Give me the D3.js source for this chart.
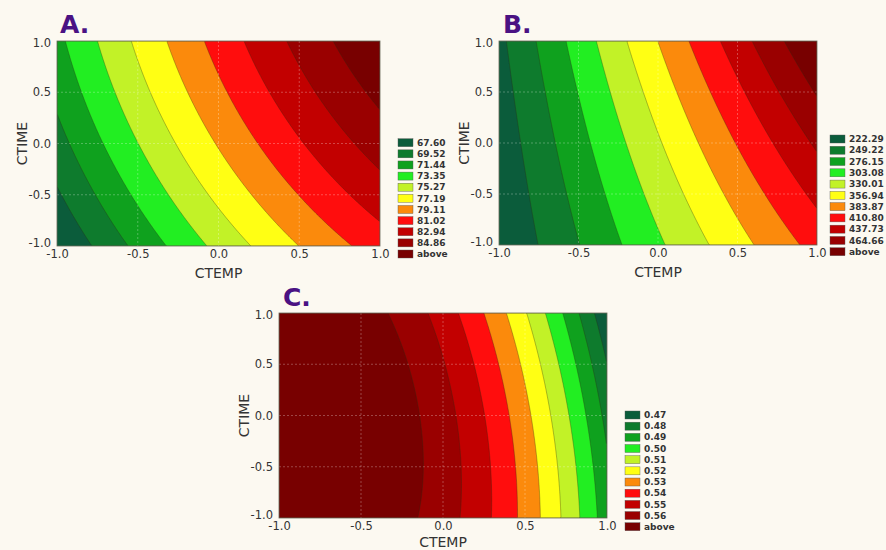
<!DOCTYPE html>
<html><head><meta charset="utf-8">
<script src="https://cdn.jsdelivr.net/npm/d3@7"></script>
<style>
html,body{margin:0;padding:0;background:#fcf9f1;}
svg{display:block;font-family:"DejaVu Sans",Verdana,sans-serif;}
</style>
</head><body>
<svg id="chart" width="886" height="550"></svg>
<script>
// ---- data ----
const axisTicks = [-1, -0.5, 0, 0.5, 1];
const xTitle = "CTEMP";
const yTitle = "CTIME";
const panelNames = ["A.", "B.", "C."];
const levelsA = [67.60, 69.52, 71.44, 73.35, 75.27, 77.19, 79.11, 81.02, 82.94, 84.86];
const levelsB = [222.29, 249.22, 276.15, 303.08, 330.01, 356.94, 383.87, 410.80, 437.73, 464.66];
const levelsC = [0.47, 0.48, 0.49, 0.50, 0.51, 0.52, 0.53, 0.54, 0.55, 0.56];
// fitted response-surface coefficients read from the contour positions:
// [b0, b_CTEMP, b_CTIME, b_CTEMP*CTIME, b_CTEMP^2, b_CTIME^2]
const coefA = [77.34, 7.52, 2.97, 0.33, -1.03, -0.50];
const coefB = [327.1, 118.4, 29.3, 19.8, -3.45, 0.8];
const coefC = [0.5539, -0.0471, -0.0046, -0.0068, -0.030, -0.004];
const bandColors = ["#0b5c3b", "#0e7b2d", "#0fa11e", "#22ee22", "#c2f227", "#ffff14",
                    "#fb8a0c", "#ff0d0d", "#c20000", "#9a0000", "#780000"];

// ---- layout ----
const panels = [
  {name: panelNames[0], coef: coefA, levels: levelsA, x0: 57, x1: 380, y0: 41, y1: 246,
   tx: 60, ty: 33, lx: 398, ly: 142.7, ldy: 11.13, xt: 32},
  {name: panelNames[1], coef: coefB, levels: levelsB, x0: 499, x1: 817, y0: 41, y1: 245,
   tx: 503, ty: 33, lx: 830, ly: 139, ldy: 11.27, xt: 32},
  {name: panelNames[2], coef: coefC, levels: levelsC, x0: 279, x1: 607, y0: 313, y1: 518,
   tx: 283, ty: 306, lx: 625, ly: 415, ldy: 11.17, xt: 29}
];

const svg = d3.select("#chart");
svg.append("rect").attr("width", 886).attr("height", 550).attr("fill", "#fcf9f1");

const surf = (c, x, y) => c[0] + c[1]*x + c[2]*y + c[3]*x*y + c[4]*x*x + c[5]*y*y;

panels.forEach((p, pi) => {
  const g = svg.append("g");
  const xs = d3.scaleLinear().domain([-1, 1]).range([p.x0, p.x1]);
  const ys = d3.scaleLinear().domain([-1, 1]).range([p.y1, p.y0]);
  const n = 260, m = 170;
  const gx = d3.scaleLinear().domain([0, n]).range([-1, 1]);
  const gy = d3.scaleLinear().domain([0, m]).range([1, -1]);
  const vals = new Array(n*m);
  for (let j = 0; j < m; j++) for (let i = 0; i < n; i++)
    vals[j*n + i] = surf(p.coef, gx(i + 0.5), gy(j + 0.5));
  const contours = d3.contours().size([n, m]).thresholds(p.levels)(vals);
  const proj = d3.geoTransform({point(x, y) { this.stream.point(xs(gx(x)), ys(gy(y))); }});
  const path = d3.geoPath(proj);

  const clipId = "clip" + pi;
  g.append("clipPath").attr("id", clipId).append("rect")
    .attr("x", p.x0).attr("y", p.y0).attr("width", p.x1 - p.x0).attr("height", p.y1 - p.y0);
  const plot = g.append("g").attr("clip-path", `url(#${clipId})`);
  plot.append("rect").attr("x", p.x0).attr("y", p.y0)
    .attr("width", p.x1 - p.x0).attr("height", p.y1 - p.y0).attr("fill", bandColors[0]);
  plot.selectAll("path.band").data(contours).join("path").attr("class", "band")
    .attr("d", path).attr("fill", (d, k) => bandColors[k + 1])
    .attr("stroke", "#2b2b12").attr("stroke-opacity", 0.55).attr("stroke-width", 0.6);

  // grid
  const inner = axisTicks.slice(1, -1);
  plot.selectAll("line.vg").data(inner).join("line").attr("class", "vg")
    .attr("x1", d => xs(d)).attr("x2", d => xs(d)).attr("y1", p.y0).attr("y2", p.y1);
  plot.selectAll("line.hg").data(inner).join("line").attr("class", "hg")
    .attr("y1", d => ys(d)).attr("y2", d => ys(d)).attr("x1", p.x0).attr("x2", p.x1);
  plot.selectAll("line.vg,line.hg").attr("stroke", "#ffffff").attr("stroke-opacity", 0.35)
    .attr("stroke-dasharray", "2,2").attr("stroke-width", 0.8);

  g.append("rect").attr("x", p.x0).attr("y", p.y0)
    .attr("width", p.x1 - p.x0).attr("height", p.y1 - p.y0)
    .attr("fill", "none").attr("stroke", "#6a6a5a").attr("stroke-width", 0.8);

  // axes
  const fmt = d => d.toFixed(1);
  const ax = g.append("g").attr("transform", `translate(0,${p.y1})`)
    .call(d3.axisBottom(xs).tickValues(axisTicks).tickFormat(fmt).tickSize(0).tickPadding(3.5));
  const ay = g.append("g").attr("transform", `translate(${p.x0},0)`)
    .call(d3.axisLeft(ys).tickValues(axisTicks).tickFormat(fmt).tickSize(0).tickPadding(6));
  [ax, ay].forEach(a => {
    a.select(".domain").remove();
    a.selectAll("text").attr("font-size", 11.5).attr("fill", "#333")
      .attr("font-family", '"DejaVu Sans",Verdana,sans-serif');
  });
  ay.selectAll("text").attr("dy", d => d === -1 ? "0.02em" : d === 1 ? "0.45em" : "0.32em");

  g.append("text").attr("x", (p.x0 + p.x1)/2).attr("y", p.y1 + p.xt)
    .attr("text-anchor", "middle").attr("font-size", 14).attr("fill", "#333").text(xTitle);
  g.append("text").attr("transform", `translate(${p.x0 - 30},${(p.y0 + p.y1)/2}) rotate(-90)`)
    .attr("text-anchor", "middle").attr("font-size", 14).attr("fill", "#333").text(yTitle);

  g.append("text").attr("x", p.tx).attr("y", p.ty).attr("font-size", 25).attr("font-weight", "bold")
    .attr("fill", "#4a1283").text(p.name);

  // legend
  const labels = p.levels.map(v => v.toFixed(2)).concat(["above"]);
  const lg = g.append("g");
  labels.forEach((lab, k) => {
    const yy = p.ly + k*p.ldy;
    lg.append("rect").attr("x", p.lx).attr("y", yy - 4).attr("width", 15).attr("height", 8)
      .attr("fill", bandColors[k]).attr("stroke", "#555").attr("stroke-width", 0.4);
    lg.append("text").attr("x", p.lx + 19).attr("y", yy).attr("dy", "0.35em")
      .attr("font-size", 9).attr("font-weight", "bold").attr("fill", "#333").text(lab);
  });
});
</script>
</body></html>
